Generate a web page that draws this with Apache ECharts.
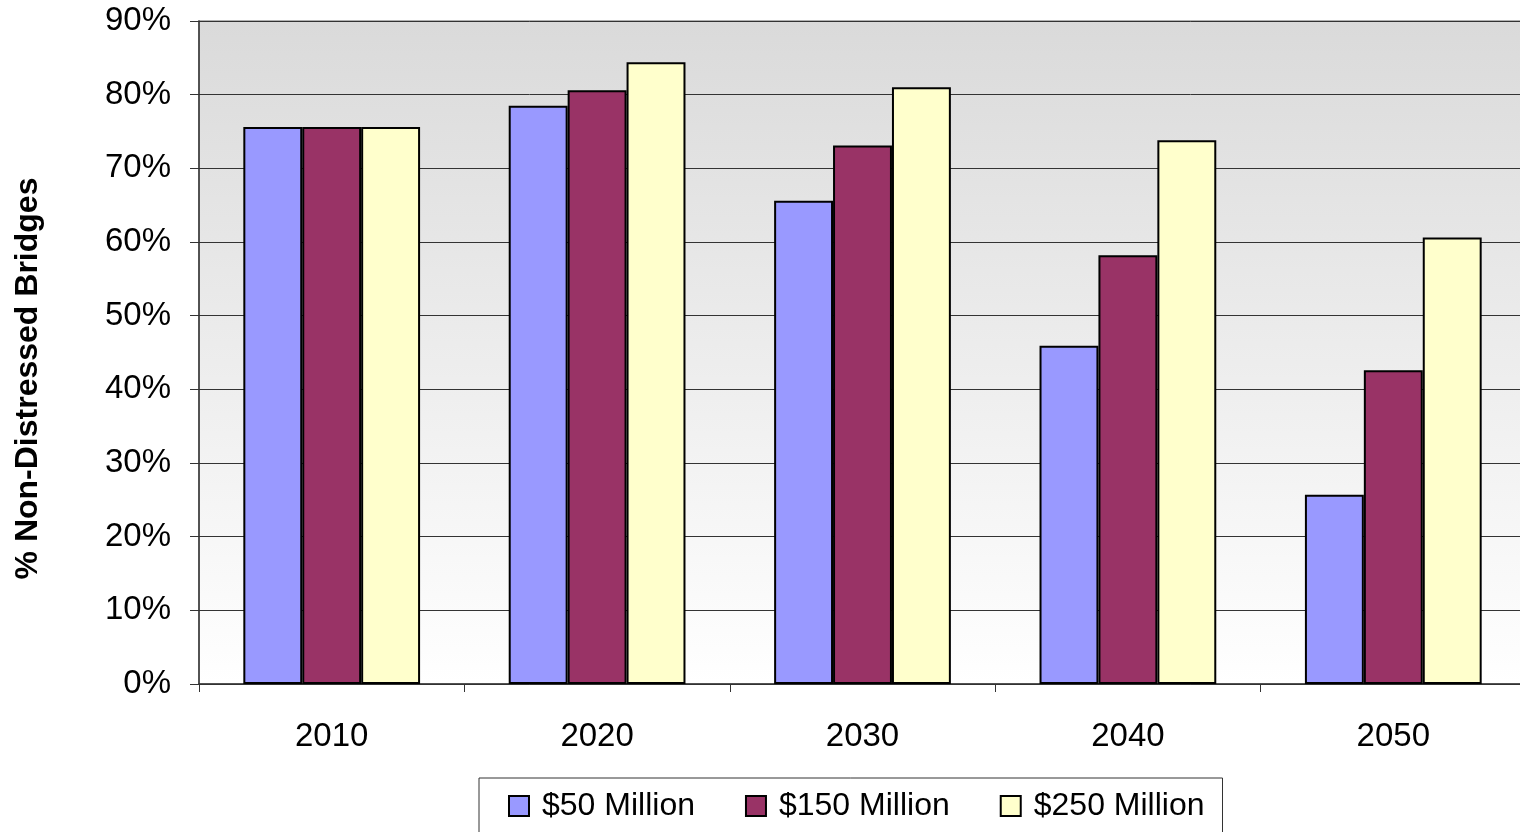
<!DOCTYPE html>
<html>
<head>
<meta charset="utf-8">
<script src="https://cdn.jsdelivr.net/npm/echarts@6/dist/echarts.min.js"></script>
<style>
html,body{margin:0;padding:0;background:#fff;}
#chart{width:1520px;height:832px;}
</style>
</head>
<body>
<div id="chart"></div>
<script>
const categories = ['2010', '2020', '2030', '2040', '2050'];
const seriesNames = ['$50 Million', '$150 Million', '$250 Million'];
const values50 = [75.6, 78.5, 65.6, 45.9, 25.7];
const values150 = [75.6, 80.6, 73.1, 58.2, 42.6];
const values250 = [75.6, 84.4, 81.0, 73.8, 60.6];
const colors = ['#9999ff', '#993366', '#ffffcc'];

const chart = echarts.init(document.getElementById('chart'));
const font = 'Liberation Sans, Arial, sans-serif';
const allValues = [values50, values150, values250];

chart.setOption({
  animation: false,
  textStyle: { fontFamily: font },
  grid: {
    left: 199, width: 1327, top: 21, bottom: 148,
    outerBoundsMode: 'none',
    containLabel: false,
    show: true,
    borderWidth: 1.5, borderColor: '#999',
    backgroundColor: {
      type: 'linear', x: 0, y: 0, x2: 0, y2: 1,
      colorStops: [{ offset: 0, color: '#dadada' }, { offset: 1, color: '#ffffff' }]
    }
  },
  legend: {
    left: 479, top: 778,
    icon: 'rect',
    itemWidth: 20, itemHeight: 20, itemGap: 50,
    padding: [12, 18, 14, 29],
    borderColor: '#333', borderWidth: 1,
    backgroundColor: '#fff',
    textStyle: { fontSize: 32, color: '#000', fontFamily: font, padding: [0, 0, 0, 8] },
    data: seriesNames
  },
  xAxis: {
    type: 'category',
    data: categories,
    axisLine: { show: true, lineStyle: { color: '#333', width: 1.5 } },
    axisTick: { show: true, length: 8, lineStyle: { color: '#333' } },
    axisLabel: { fontSize: 33, color: '#000', margin: 36, fontFamily: font },
    splitLine: { show: false }
  },
  yAxis: {
    type: 'value',
    min: 0, max: 90, interval: 10,
    name: '% Non-Distressed Bridges',
    nameLocation: 'middle',
    nameGap: 155,
    nameTextStyle: { fontSize: 32, fontWeight: 'bold', color: '#000', fontFamily: font, padding: [0, 52, 0, 0] },
    axisLine: { show: true, lineStyle: { color: '#333', width: 1.5 } },
    axisTick: { show: true, length: 9, lineStyle: { color: '#333' } },
    axisLabel: { fontSize: 33, color: '#000', margin: 28, formatter: '{value}%', fontFamily: font },
    splitLine: { show: true, lineStyle: { color: '#333', width: 1 } }
  },
  series: seriesNames.map((name, i) => ({
    name: name,
    type: 'bar',
    data: allValues[i],
    barGap: '0%',
    barCategoryGap: '33.4%',
    itemStyle: { color: colors[i], borderColor: '#000', borderWidth: 2 }
  }))
});
</script>
</body>
</html>
